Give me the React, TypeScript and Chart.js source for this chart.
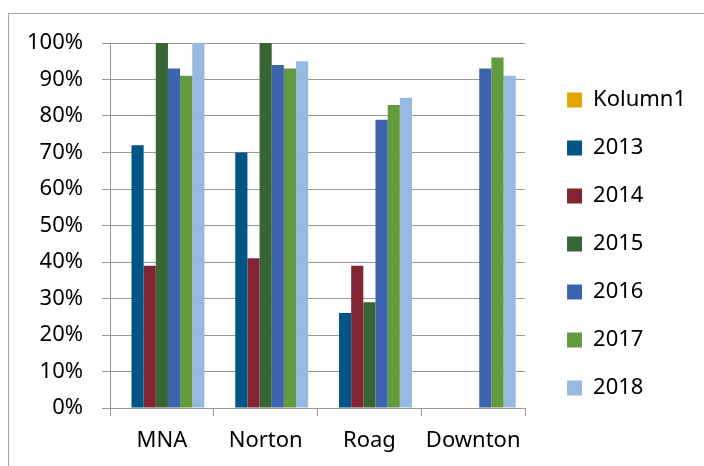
import React, { useEffect, useRef } from 'react';
import { Chart, registerables } from 'chart.js';

Chart.register(...registerables);

const categories = ['MNA', 'Norton', 'Roag', 'Downton'];
const seriesNames = ['Kolumn1', '2013', '2014', '2015', '2016', '2017', '2018'];
const kolumn1: (number | null)[] = [null, null, null, null];
const y2013: (number | null)[] = [72, 70, 26, null];
const y2014: (number | null)[] = [39, 41, 39, null];
const y2015: (number | null)[] = [100, 100, 29, null];
const y2016: (number | null)[] = [93, 94, 79, 93];
const y2017: (number | null)[] = [91, 93, 83, 96];
const y2018: (number | null)[] = [100, 95, 85, 91];
const seriesValues = [kolumn1, y2013, y2014, y2015, y2016, y2017, y2018];
const seriesColors = ['#E3A600', '#005587', '#812532', '#386535', '#3D65AD', '#629B3D', '#96B9DF'];
const yTickValues = [0, 10, 20, 30, 40, 50, 60, 70, 80, 90, 100];

const GRID = '#999999';
const FONT = 'Noto Sans';

const framePlugin = {
  id: 'frame',
  afterDraw(chart: any) {
    const ctx = chart.ctx;
    ctx.save();
    ctx.strokeStyle = '#a6a6a6';
    ctx.lineWidth = 1;
    ctx.strokeRect(8.5, 13.5, 760, 520);
    ctx.restore();
  },
};

export default function App() {
  const ref = useRef<HTMLCanvasElement | null>(null);

  useEffect(() => {
    if (!ref.current) return;
    const chart = new Chart(ref.current, {
      type: 'bar',
      data: {
        labels: categories,
        datasets: seriesNames.map((name, i) => ({
          label: name,
          data: seriesValues[i],
          backgroundColor: seriesColors[i],
          borderWidth: 0,
          categoryPercentage: 0.82,
          barPercentage: 1.0,
        })),
      },
      options: {
        responsive: false,
        animation: false,
        devicePixelRatio: 1,
        layout: { padding: { top: 43, bottom: 12, left: 20, right: 8 } },
        font: { family: FONT, size: 22 },
        plugins: {
          legend: {
            position: 'right',
            align: 'start',
            maxWidth: 300,
            title: { display: true, text: '', font: { size: 10 }, padding: { top: 8, bottom: 0 } },
            labels: {
              boxWidth: 15,
              boxHeight: 15,
              padding: 26,
              color: '#000',
              font: { family: FONT, size: 22 },
            },
          },
          tooltip: { enabled: false },
        },
        scales: {
          x: {
            grid: {
              drawOnChartArea: false,
              drawTicks: true,
              tickLength: 8,
              color: GRID,
              offset: true,
            },
            border: { display: true, color: GRID },
            ticks: {
              color: '#000',
              padding: 12,
              font: { family: FONT, size: 22 },
              maxRotation: 0,
            },
            afterFit(s: any) {
              s.height = 46;
            },
          },
          y: {
            min: 0,
            max: 100,
            afterBuildTicks(s: any) {
              s.ticks = yTickValues.map((v) => ({ value: v }));
            },
            grid: { color: GRID, tickLength: 8, drawTicks: true },
            border: { display: true, color: GRID },
            ticks: {
              color: '#000',
              padding: 19,
              font: { family: FONT, size: 22 },
              callback: (v: any) => v + '%',
            },
            afterFit(s: any) {
              s.width = 90;
            },
          },
          spacer: {
            type: 'linear',
            position: 'right',
            display: true,
            grid: { display: false },
            border: { display: false },
            ticks: { display: false },
            afterFit(s: any) {
              s.width = 16;
            },
          },
        },
      } as any,
      plugins: [framePlugin],
    });
    return () => chart.destroy();
  }, []);

  return (
    <div style={{ position: 'fixed', left: 0, top: 0, width: 704, height: 466, background: '#fff' }}>
      <canvas ref={ref} width={704} height={466} style={{ display: 'block' }} />
    </div>
  );
}
